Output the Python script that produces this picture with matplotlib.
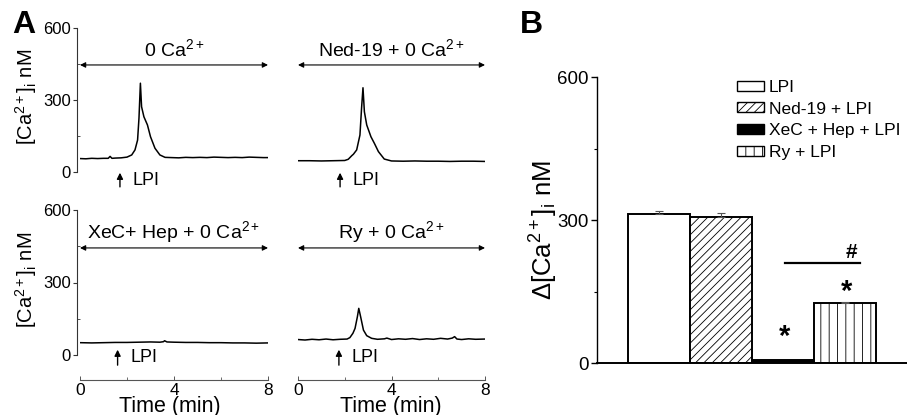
import matplotlib
matplotlib.use("Agg")
import matplotlib.pyplot as plt
from matplotlib.patches import Patch
from matplotlib.ticker import FixedLocator

plt.rcParams['font.family'] = ['Liberation Sans', 'DejaVu Sans']
plt.rcParams['mathtext.fontset'] = 'custom'
plt.rcParams['mathtext.rm'] = 'Liberation Sans'
plt.rcParams['mathtext.it'] = 'Liberation Sans:italic'
plt.rcParams['mathtext.bf'] = 'Liberation Sans:bold'
plt.rcParams['hatch.linewidth'] = 0.6
plt.rcParams['hatch.color'] = '#555555'

# ---------------- Data ----------------
# Panel A traces: time (min) and [Ca2+]i (nM)
t_ctrl = [0, 0.25, 0.5, 0.75, 1.0, 1.2, 1.28, 1.36, 1.5, 1.75, 2.0, 2.2, 2.34, 2.45, 2.51, 2.57,
          2.62, 2.72, 2.87, 3.0, 3.19, 3.4, 3.62, 3.9, 4.2, 4.5, 4.8, 5.1, 5.4, 5.7, 6.0, 6.3,
          6.6, 6.9, 7.2, 7.5, 7.8, 8.0]
v_ctrl = [56, 55, 57, 56, 57, 57, 65, 57, 58, 59, 62, 71, 92, 133, 225, 370,
          272, 230, 196, 147, 99, 71, 61, 60, 59, 61, 60, 61, 60, 62, 61, 60,
          61, 60, 62, 61, 60, 60]

t_ned = [0, 0.5, 1.0, 1.5, 2.0, 2.15, 2.3, 2.37, 2.51, 2.65, 2.72, 2.78, 2.84, 2.94, 3.12,
         3.27, 3.44, 3.69, 4.0, 4.5, 5.0, 5.5, 6.0, 6.5, 7.0, 7.5, 8.0]
v_ned = [47, 47, 46, 47, 48, 53, 68, 74, 92, 154, 267, 351, 251, 196, 147,
         119, 85, 54, 46, 45, 46, 45, 45, 44, 45, 45, 44]

t_xec = [0, 0.5, 1.0, 1.5, 2.0, 2.5, 3.0, 3.4, 3.55, 3.6, 3.7, 4.0, 4.5, 5.0, 5.5, 6.0,
         6.5, 7.0, 7.5, 8.0]
v_xec = [51, 50, 51, 52, 52, 53, 54, 53, 55, 59, 54, 53, 52, 52, 51, 51,
         50, 50, 49, 50]

t_ry = [0, 0.3, 0.6, 0.9, 1.2, 1.5, 1.8, 2.1, 2.22, 2.35, 2.44, 2.54, 2.6, 2.68, 2.8, 2.94,
        3.15, 3.4, 3.7, 3.8, 4.0, 4.3, 4.6, 4.9, 5.2, 5.5, 5.8, 6.1, 6.4, 6.6, 6.7, 6.8,
        7.0, 7.3, 7.6, 8.0]
v_ry = [64, 62, 65, 63, 66, 63, 65, 66, 72, 90, 110, 158, 193, 158, 103, 80,
        69, 65, 67, 70, 64, 67, 65, 68, 64, 67, 65, 69, 66, 70, 76, 66,
        64, 67, 65, 66]

trace_titles = [r'0 Ca$^{2+}$', r'Ned-19 + 0 Ca$^{2+}$',
                r'XeC+ Hep + 0 Ca$^{2+}$', r'Ry + 0 Ca$^{2+}$']
lpi_times = [1.7, 1.8, 1.6, 1.75]

# Panel B bars
groups = ['LPI', 'Ned-19 + LPI', 'XeC + Hep + LPI', 'Ry + LPI']
delta_ca = [313, 307, 6, 125]
delta_err = [6, 7, 0, 4]

# ---------------- Figure ----------------
W, H = 907, 415
fig = plt.figure(figsize=(W / 100, H / 100), dpi=100)

def ax_px(x0, y_top, w, h):
    return fig.add_axes([x0 / W, 1 - (y_top + h) / H, w / W, h / H])

axc = '#333333'
traces = [(t_ctrl, v_ctrl), (t_ned, v_ned), (t_xec, v_xec), (t_ry, v_ry)]
pos = [(80, 28, 188, 144), (298, 28, 187, 144), (80, 210, 188, 145), (298, 210, 187, 145)]

for i, ((t, v), (x0, yt, w, h)) in enumerate(zip(traces, pos)):
    ax = ax_px(x0, yt, w, h)
    ax.plot(t, v, color='black', lw=1.1)
    ax.set_xlim(0, 8)
    ax.set_ylim(0, 600)
    ax.patch.set_visible(False)
    for s in ['top', 'right']:
        ax.spines[s].set_visible(False)
    left = (i % 2 == 0)
    if left:
        ax.spines['left'].set_position(('outward', 2.2))
        ax.spines['left'].set_color(axc)
        ax.spines['left'].set_linewidth(0.8)
        ax.set_yticks([0, 300, 600])
        ax.yaxis.set_minor_locator(FixedLocator([150, 450]))
        ax.tick_params(axis='y', which='major', length=3, width=0.8, color=axc,
                       labelsize=12, pad=1.5, direction='out')
        ax.tick_params(axis='y', which='minor', length=2, width=0.6, color=axc,
                       direction='in')
    else:
        ax.spines['left'].set_visible(False)
        ax.set_yticks([])
    if i >= 2:
        ax.spines['bottom'].set_position(('outward', 18))
        ax.spines['bottom'].set_bounds(0, 8)
        ax.spines['bottom'].set_color('#555555')
        ax.spines['bottom'].set_linewidth(0.8)
        ax.set_xticks([0, 4, 8])
        ax.xaxis.set_minor_locator(FixedLocator([2, 6]))
        ax.tick_params(axis='x', which='major', length=3, width=0.7, color='#555555',
                       direction='in', labelsize=12.5, pad=2)
        ax.tick_params(axis='x', which='minor', length=2, width=0.6, color='#555555',
                       direction='in')
    else:
        ax.spines['bottom'].set_visible(False)
        ax.set_xticks([])
    # double-headed arrow and title
    if i < 2:
        ya, yt_ = 446, 510
    else:
        ya, yt_ = 443, 508
    ax.annotate('', xy=(0, ya), xytext=(8, ya), annotation_clip=False,
                arrowprops=dict(arrowstyle='<|-|>', color='black', lw=0.8,
                                mutation_scale=8, shrinkA=0, shrinkB=0))
    ax.text(4, yt_, trace_titles[i], ha='center', va='center', fontsize=14)
    # LPI arrow
    ta = lpi_times[i]
    if i < 2:
        y0, y1, ytx = -62, -3, -36
    else:
        y0, y1, ytx = -42, 22, -12
    ax.annotate('', xy=(ta, y1), xytext=(ta, y0), annotation_clip=False,
                arrowprops=dict(arrowstyle='-|>', color='black', lw=1.0,
                                mutation_scale=9, shrinkA=0, shrinkB=0))
    ax.text(ta + 0.55, ytx, 'LPI', ha='left', va='center', fontsize=13, clip_on=False)

# y-axis labels of panel A
ylab = r'[Ca$^{2+}$]$_{\rm i}$ nM'
fig.text(26 / W, 1 - 97 / H, ylab, rotation=90, ha='center', va='center', fontsize=14.5)
fig.text(26 / W, 1 - 280 / H, ylab, rotation=90, ha='center', va='center', fontsize=14.5)
fig.text(170 / W, 1 - 406 / H, 'Time (min)', ha='center', va='center', fontsize=15.5)
fig.text(391 / W, 1 - 406 / H, 'Time (min)', ha='center', va='center', fontsize=15.5)
fig.text(24 / W, 1 - 25 / H, 'A', ha='center', va='center', fontsize=23, fontweight='bold')
fig.text(531 / W, 1 - 25 / H, 'B', ha='center', va='center', fontsize=23, fontweight='bold')

# ---------------- Panel B ----------------
axb = ax_px(597, 77, 310, 286)
xs = [1, 2, 3, 4]
fills = ['white', 'white', 'black', 'white']
hatches = [None, '////', None, '||']
for x, val, err, fc, ht, lab in zip(xs, delta_ca, delta_err, fills, hatches, groups):
    axb.bar(x, val, width=1.0, color=fc, edgecolor='black', linewidth=1.4,
            hatch=ht, label=lab, zorder=2)
    if err > 0:
        axb.errorbar(x, val, yerr=[[0], [err]], fmt='none', ecolor='#555555',
                     elinewidth=0.8, capsize=3, capthick=0.8, zorder=3)
axb.set_xlim(0, 5)
axb.set_ylim(0, 600)
axb.patch.set_visible(False)
for s in ['top', 'right']:
    axb.spines[s].set_visible(False)
axb.spines['left'].set_linewidth(1.0)
axb.spines['bottom'].set_linewidth(1.4)
axb.set_xticks([])
axb.set_yticks([0, 300, 600])
axb.yaxis.set_minor_locator(FixedLocator([150, 450]))
axb.tick_params(axis='y', which='major', length=4, width=1.0, labelsize=13.5, pad=2)
axb.tick_params(axis='y', which='minor', length=2.5, width=0.8)
fig.text(544 / W, 1 - 230 / H, r'$\Delta$[Ca$^{2+}$]$_{\rm i}$ nM', rotation=90,
         ha='center', va='center', fontsize=18.5)

# significance marks
axb.plot([3.03, 4.24], [210, 210], color='black', lw=1.6)
axb.text(4.11, 232, '#', ha='center', va='center', fontsize=15, fontweight='bold')
axb.text(3.03, 55, '*', ha='center', va='center', fontsize=21, fontweight='bold')
axb.text(4.02, 150, '*', ha='center', va='center', fontsize=21, fontweight='bold')

handles = [Patch(facecolor=f, edgecolor='black', hatch=h, linewidth=1.0)
           for f, h in zip(fills, hatches)]
fig.legend(handles, groups, loc='upper left', bbox_to_anchor=(737 / W, 1 - 80 / H),
           frameon=False, fontsize=12.5, handlelength=1.55, handleheight=0.5,
           handletextpad=0.3, labelspacing=0.38, borderpad=0, borderaxespad=0)

fig.savefig('out.png', dpi=100)
